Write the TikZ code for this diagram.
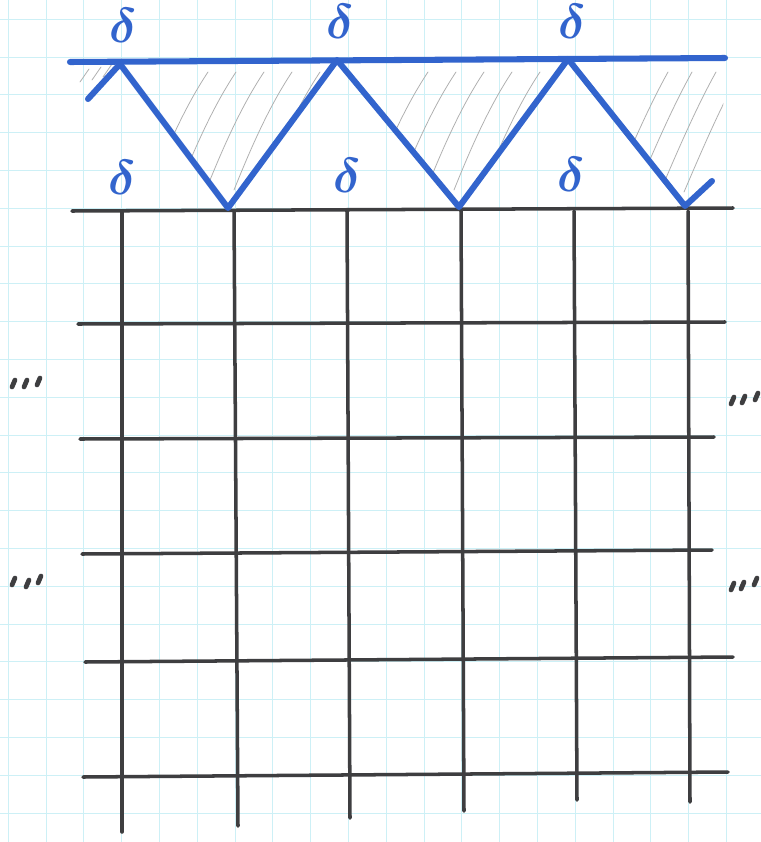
\documentclass[tikz,border=0pt]{standalone}
\usepackage{amsmath}
\usepackage{tikz}
\usetikzlibrary{calc}

\definecolor{pen}{RGB}{50,100,205}
\definecolor{ink}{RGB}{62,62,64}
\definecolor{paper}{RGB}{205,240,246}
\definecolor{pencil}{RGB}{175,175,175}

\newcommand{\jointdelta}{\scalebox{1.4}{$\boldsymbol{\delta}$}}

\begin{document}
\begin{tikzpicture}[
  x=0.025cm, y=-0.025cm,
  paperline/.style={draw=paper, line width=0.8pt},
  chord/.style={draw=pen, line width=4.3pt, line cap=round, line join=round},
  frame/.style={draw=ink, line width=2.5pt, line cap=round},
  hatch/.style={draw=pencil, line width=0.55pt, line cap=round},
  ditto/.style={draw=ink, line width=3.4pt, line cap=round},
  deltalbl/.style={text=pen, inner sep=0pt, font=\fontsize{24}{26}\selectfont},
]

\useasboundingbox (0,0) rectangle (761,842);
\fill[white] (0,0) rectangle (761,842);

% graph paper
\foreach \i in {0,...,19}
  \draw[paperline] ({8.3+37.8*\i},0) -- ({8.3+37.8*\i},842);
\foreach \j in {0,...,21}
  \draw[paperline] (0,{19.3+37.8*\j}) -- (761,{19.3+37.8*\j});

% frame below the truss
\foreach \xa/\ya/\xb/\yb in {72/211/733/208, 78/324/725/322, 80/439/714/437,
                             82/554/712/550, 85/662/733/657, 83/777/728/772}
  \draw[frame] (\xa,\ya) -- (\xb,\yb);
\foreach \xa/\xb/\yb in {122/122/832, 234/238/826, 347/350/818,
                         461/464/811, 574/577/800, 688/690/802}
  \draw[frame] (\xa,211) -- (\xb,\yb);

% truss joints
\coordinate (l0) at (70,62);
\coordinate (r0) at (725,58);
\coordinate (t1) at (120,64);
\coordinate (t2) at (337,60);
\coordinate (t3) at (568,59);
\coordinate (b1) at (228,208);
\coordinate (b2) at (459,207);
\coordinate (b3) at (685,206);
\coordinate (s1) at (88,99);
\coordinate (s2) at (712,181);

% pencil hatching
\foreach \x/\y in {80/82, 92/80, 103/77}
  \draw[hatch] (\x,\y) .. controls (\x+4,\y-7) .. (\x+9,\y-13);
\begin{scope}
  \clip (t1) -- (t2) -- (b1) -- cycle;
  \foreach \s in {150,178,...,300}
    \draw[hatch] (\s,190) .. controls (\s+18,145) and (\s+36,105) .. (\s+58,72);
\end{scope}
\begin{scope}
  \clip (t2) -- (t3) -- (b2) -- cycle;
  \foreach \s in {370,398,...,530}
    \draw[hatch] (\s,190) .. controls (\s+18,145) and (\s+36,105) .. (\s+58,72);
\end{scope}
\begin{scope}
  \clip (t3) -- (r0) -- (720,190) -- (b3) -- cycle;
  \foreach \s in {612,636,...,700}
    \draw[hatch] (\s,192) .. controls (\s+18,150) and (\s+36,108) .. (\s+56,72);
\end{scope}

% truss
\draw[chord] (l0) -- (r0);
\draw[chord] (s1) -- (t1) -- (b1) -- (t2) -- (b2) -- (t3) -- (b3) -- (s2);

% joint labels
\node[deltalbl] (d1) at (123,25)  {\jointdelta};
\node[deltalbl] (d2) at (340,21)  {\jointdelta};
\node[deltalbl] (d3) at (572,21)  {\jointdelta};
\node[deltalbl] (d4) at (122,177) {\jointdelta};
\node[deltalbl] (d5) at (347,175) {\jointdelta};
\node[deltalbl] (d6) at (571,174) {\jointdelta};

% ditto marks
\foreach \x/\y in {12/387, 24/387, 37/385, 12/585, 26/587, 38/583,
                   731/404, 742/403, 755/400, 731/590, 741/589, 754/585}
  \draw[ditto] (\x,\y) -- ++(3,-7);

\end{tikzpicture}
\end{document}
